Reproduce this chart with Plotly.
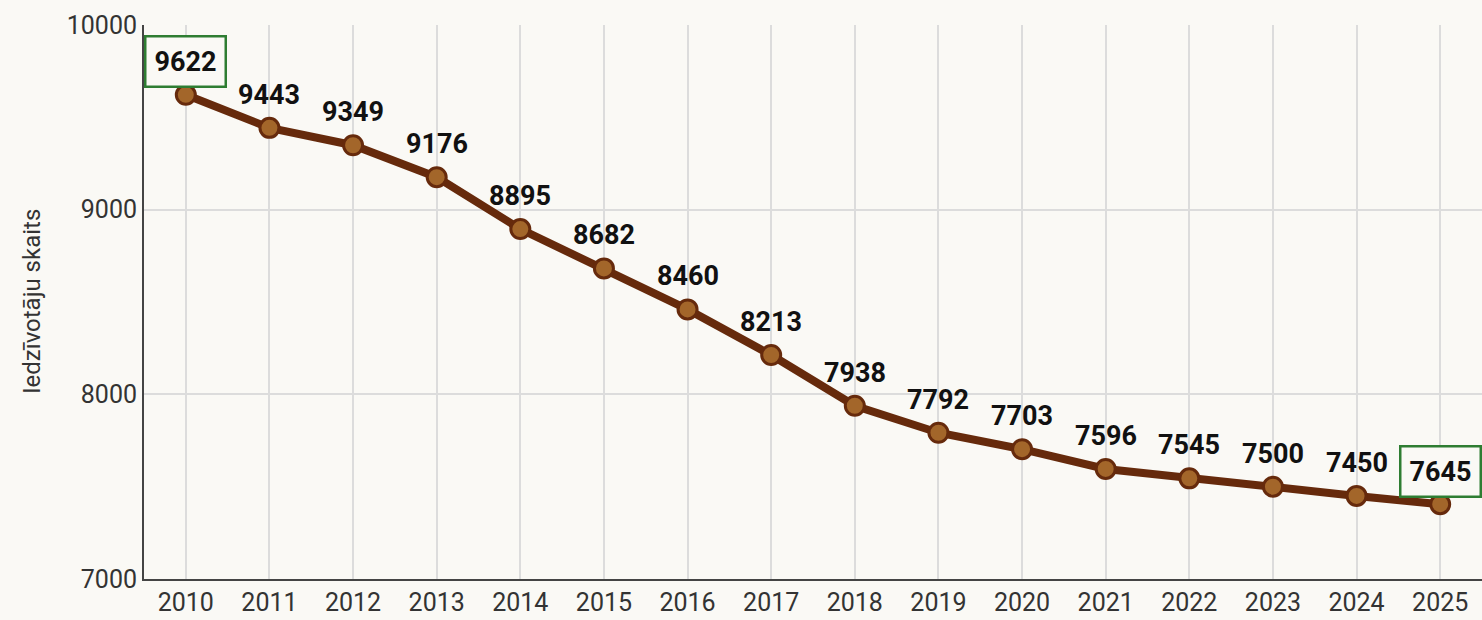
import plotly.graph_objects as go

years = list(range(2010, 2026))
population = [9622, 9443, 9349, 9176, 8895, 8682, 8460, 8213, 7938, 7792, 7703, 7596, 7545, 7500, 7450, 7405]
labels = ["9622", "9443", "9349", "9176", "8895", "8682", "8460", "8213", "7938", "7792",
          "7703", "7596", "7545", "7500", "7450", "7645"]
boxed_years = [2010, 2025]
y_ticks = [7000, 8000, 9000, 10000]

FONT = "Roboto, sans-serif"
BG = "#faf9f5"

fig = go.Figure()
fig.add_trace(go.Scatter(
    x=years, y=population, mode="lines+markers",
    line=dict(color="#662a0c", width=8),
    marker=dict(size=19, color="#a3662a", line=dict(color="#662a0c", width=3)),
    cliponaxis=False, showlegend=False,
))

for yr, val, lab in zip(years, population, labels):
    boxed = yr in boxed_years
    fig.add_annotation(
        x=yr, y=val, text=f"<b>{lab}</b>", showarrow=False,
        yanchor="middle", xanchor="center", yshift=33,
        font=dict(family=FONT, size=27, color="#111111"),
        bordercolor="#2e7d32" if boxed else "rgba(0,0,0,0)",
        borderwidth=2.5 if boxed else 0, borderpad=8 if boxed else 0,
        bgcolor=BG if boxed else "rgba(0,0,0,0)",
    )

fig.add_annotation(
    xref="paper", yref="paper", x=-0.0837, y=0.5, text="Iedzīvotāju skaits",
    textangle=-90, showarrow=False, xanchor="center", yanchor="middle",
    font=dict(family=FONT, size=24, color="#333333"),
)

fig.update_layout(
    width=1482, height=620,
    margin=dict(l=144, r=0, t=25, b=41),
    paper_bgcolor=BG, plot_bgcolor=BG,
    font=dict(family=FONT, color="#333333"),
)
fig.update_xaxes(
    range=[2009.5, 2025.5], tickvals=years, ticktext=[str(y) for y in years],
    showgrid=True, gridcolor="#dcdcdc", gridwidth=1.5,
    showline=True, linecolor="#444444", linewidth=2,
    tickfont=dict(family=FONT, size=25, color="#333333"), ticks="", zeroline=False,
)
fig.update_yaxes(
    range=[7000, 10000], tickvals=y_ticks, ticktext=[str(v) for v in y_ticks],
    showgrid=True, gridcolor="#dcdcdc", gridwidth=1.5,
    showline=True, linecolor="#444444", linewidth=2,
    tickfont=dict(family=FONT, size=25, color="#333333"), ticks="", zeroline=False,
)

fig.write_html(
    "out.html",
    config={"displayModeBar": False},
    post_script="document.body.style.margin='0';document.body.style.background='%s';" % BG,
)
